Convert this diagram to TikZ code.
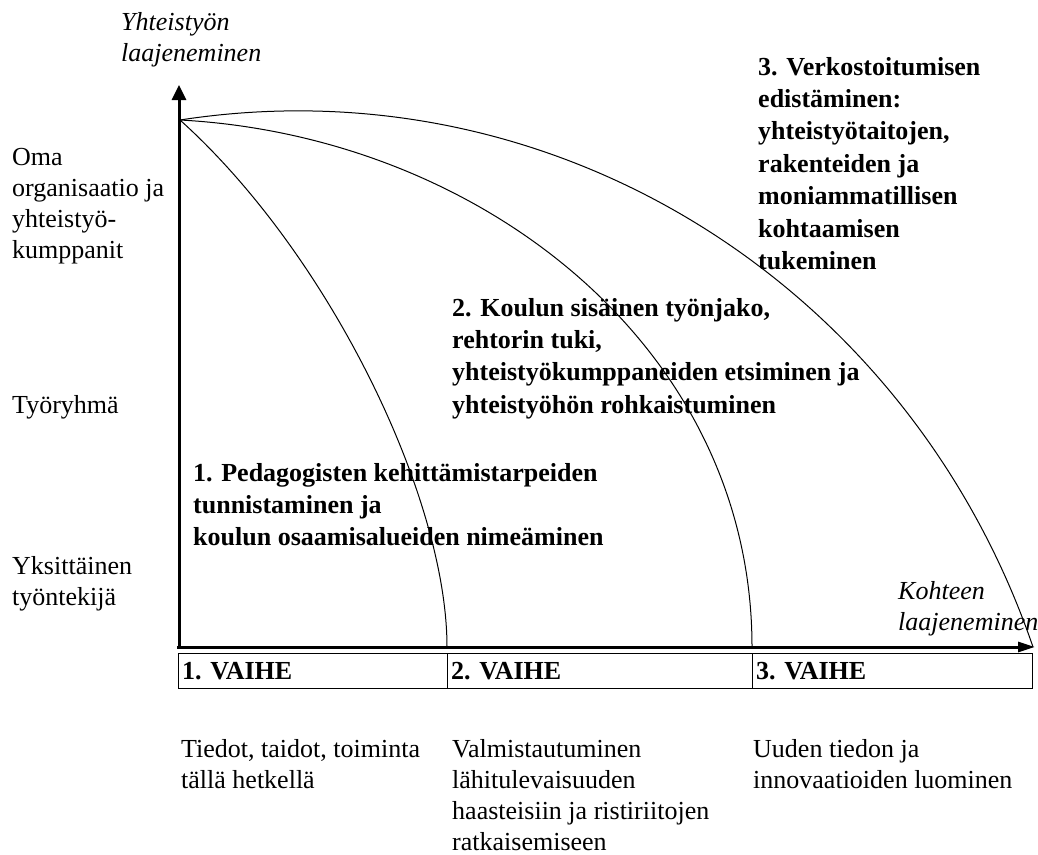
\documentclass[tikz,border=0pt]{standalone}
\usepackage{fontspec}
\setmainfont{Liberation Serif}
\usetikzlibrary{arrows.meta}
% stacked lines, first baseline on the node's base
\newcommand\txtlines[1]{\begin{tabular}[t]{@{}l@{}}#1\end{tabular}}
\begin{document}
\begin{tikzpicture}[x=1pt,y=-1pt,
  lbl/.style={anchor=base west, inner sep=0pt, font=\fontsize{26}{31}\selectfont},
  stage/.style={anchor=base west, inner sep=0pt, font=\fontsize{26}{32.4}\selectfont\bfseries},
  axislbl/.style={anchor=base west, inner sep=0pt, font=\fontsize{26}{31.5}\selectfont\itshape},
  phase/.style={anchor=base west, inner sep=0pt, font=\fontsize{26}{31}\selectfont\bfseries},
  axisline/.style={line width=3pt},
  arcline/.style={line width=1pt},
  cellbox/.style={line width=0.9pt}]

\fill[white] (0,0) rectangle (1038,854);
\useasboundingbox (0,0) rectangle (1038,854);

% axes
\coordinate (orig) at (179,649);
\coordinate (ytip) at (179,85);
\coordinate (xorig) at (177,647);
\coordinate (xtip) at (1035,647);
\draw[axisline, -{Triangle[length=15pt,width=14pt]}] (orig) -- (ytip);
\draw[axisline, -{Triangle[length=17pt,width=10pt]}] (xorig) -- (xtip);

% growth arcs from the common start point
\coordinate (O) at (180,120);
\coordinate (e1) at (447,647);
\coordinate (e2) at (752,647);
\coordinate (e3) at (1033,647);
\draw[arcline] (O) .. controls (329,254) and (447,497) .. (e1);
\draw[arcline] (O) .. controls (480,136) and (752,347) .. (e2);
\draw[arcline] (O) .. controls (555,62) and (909,285) .. (e3);

% axis labels
\node[axislbl] (ylab) at (121,30) {\txtlines{Yhteistyön\\laajeneminen}};
\node[axislbl] (xlab) at (898,599) {\txtlines{Kohteen\\laajeneminen}};

% levels on the vertical axis
\node[lbl] (lvl3) at (12,165) {\txtlines{Oma\\organisaatio ja\\yhteistyö-\\kumppanit}};
\node[lbl] (lvl2) at (12,413) {Työryhmä};
\node[lbl] (lvl1) at (12,574) {\txtlines{Yksittäinen\\työntekijä}};

% stage descriptions
\node[stage] (s1) at (193,481) {\txtlines{1. Pedagogisten kehittämistarpeiden\\tunnistaminen ja\\koulun osaamisalueiden nimeäminen}};
\node[stage] (s2) at (452,316) {\txtlines{2. Koulun sisäinen työnjako,\\rehtorin tuki,\\yhteistyökumppaneiden etsiminen ja\\yhteistyöhön rohkaistuminen}};
\node[stage] (s3) at (758,75) {\txtlines{3. Verkostoitumisen\\edistäminen:\\yhteistyötaitojen,\\rakenteiden ja\\moniammatillisen\\kohtaamisen\\tukeminen}};

% phase bar
\draw[cellbox] (178,653) rectangle (1032,688);
\draw[cellbox] (447,653) -- (447,688);
\draw[cellbox] (752,653) -- (752,688);
\node[phase] (p1) at (182,679) {1. VAIHE};
\node[phase] (p2) at (451,679) {2. VAIHE};
\node[phase] (p3) at (756,679) {3. VAIHE};

% phase outcomes
\node[lbl] (o1) at (181,757) {\txtlines{Tiedot, taidot, toiminta\\tällä hetkellä}};
\node[lbl] (o2) at (452,757) {\txtlines{Valmistautuminen\\lähitulevaisuuden\\haasteisiin ja ristiriitojen\\ratkaisemiseen}};
\node[lbl] (o3) at (753,757) {\txtlines{Uuden tiedon ja\\innovaatioiden luominen}};
\end{tikzpicture}
\end{document}
